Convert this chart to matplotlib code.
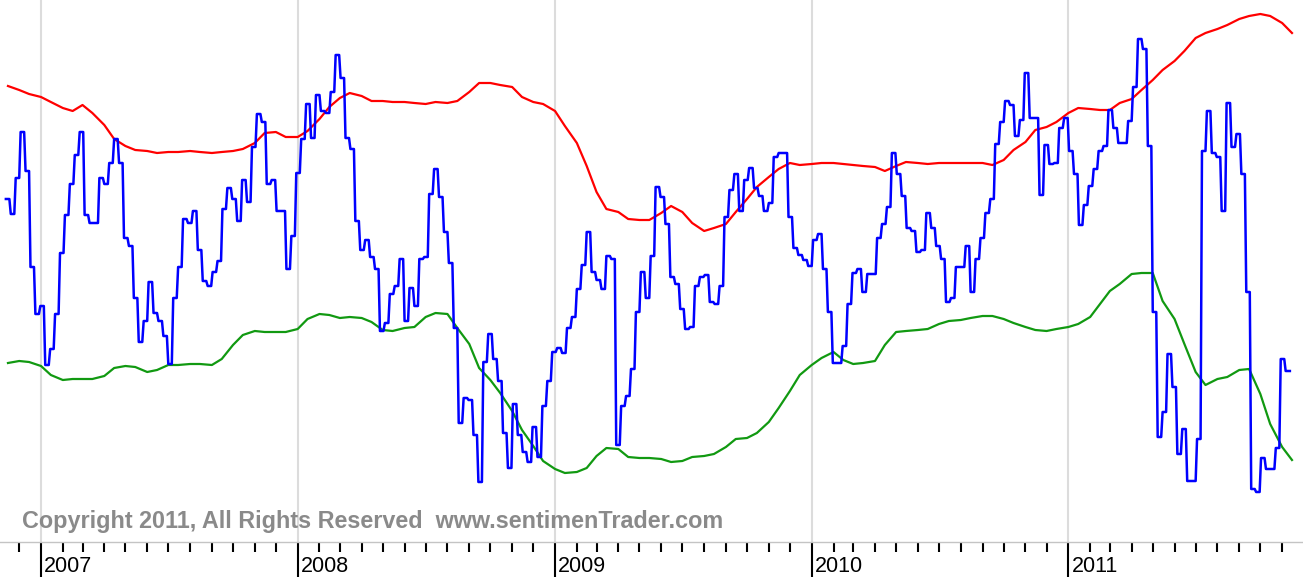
import matplotlib
matplotlib.use('Agg')
import matplotlib.pyplot as plt
import matplotlib.dates as mdates
import pandas as pd

plt.rcParams['font.family'] = ['Liberation Sans', 'DejaVu Sans']

# weekly indicator (blue), first week starting 2006-11-12
weekly_start = '2006-11-12'
weekly_values = [
    341, 326, 362, 408, 369, 273, 226, 234, 175, 191,
    226, 287, 325, 356, 385, 408, 325, 317, 317, 362,
    356, 377, 401, 377, 302, 294, 242, 198, 219, 258,
    227, 219, 204, 176, 242, 273, 321, 317, 329, 290,
    259, 254, 268, 279, 331, 352, 341, 319, 360, 338,
    393, 426, 418, 356, 360, 329, 329, 271, 304, 367,
    401, 436, 402, 445, 429, 427, 448, 485, 462, 402,
    391, 319, 290, 300, 283, 271, 209, 217, 246, 254,
    281, 219, 252, 234, 281, 283, 346, 371, 343, 308,
    277, 212, 117, 142, 140, 105, 58, 178, 206, 181,
    159, 107, 72, 136, 105, 88, 78, 113, 83, 134,
    159, 188, 192, 187, 212, 223, 251, 275, 308, 268,
    260, 251, 284, 281, 95, 134, 144, 171, 228, 268,
    242, 284, 353, 343, 316, 263, 256, 231, 211, 213,
    254, 263, 265, 238, 236, 254, 323, 350, 366, 329,
    360, 372, 352, 344, 329, 337, 383, 387, 387, 323,
    292, 285, 280, 274, 300, 306, 271, 228, 177, 177,
    194, 236, 267, 271, 248, 266, 266, 302, 316, 333,
    387, 366, 344, 312, 309, 288, 290, 327, 312, 294,
    281, 238, 242, 273, 273, 294, 248, 281, 302, 327,
    341, 396, 418, 439, 435, 404, 420, 467, 422, 422,
    345, 395, 376, 377, 412, 422, 389, 366, 315, 335,
    354, 371, 389, 394, 430, 412, 397, 397, 419, 453,
    501, 491, 394, 228, 103, 128, 186, 153, 86, 111,
    59, 59, 101, 389, 429, 387, 383, 329, 437, 393,
    406, 366, 248, 51, 48, 82, 71, 71, 92, 181,
    169,
]

# upper band (red) and lower band (green), semi-monthly from 2006-11-15
band_start = '2006-11-15'
upper_band = [
    454, 450, 446, 443, 438, 432, 429, 435, 427, 415,
    401, 394, 390, 389, 387, 388, 388, 389, 388, 387,
    388, 389, 391, 397, 407, 408, 403, 403, 409, 421,
    433, 442, 447, 444, 439, 439, 438, 438, 437, 436,
    438, 437, 439, 448, 457, 457, 455, 453, 443, 438,
    436, 429, 414, 397, 374, 348, 331, 328, 321, 320,
    320, 327, 334, 328, 317, 309, 312, 316, 328, 341,
    353, 363, 371, 377, 375, 376, 377, 377, 376, 375,
    374, 373, 369, 374, 378, 377, 376, 377, 377, 377,
    377, 377, 375, 380, 390, 398, 410, 413, 418, 427,
    432, 431, 430, 430, 437, 441, 450, 460, 470, 479,
    489, 502, 507, 511, 515, 521, 524, 526, 524, 517,
    507,
]
lower_band = [
    177, 179, 178, 174, 165, 160, 161, 161, 161, 164,
    172, 174, 173, 168, 170, 175, 175, 176, 176, 175,
    181, 195, 205, 209, 208, 208, 208, 211, 221, 226,
    225, 222, 223, 222, 218, 210, 209, 212, 213, 223,
    227, 226, 212, 196, 172, 160, 147, 129, 110, 94,
    79, 71, 67, 68, 72, 84, 92, 91, 83, 82,
    82, 81, 78, 79, 83, 84, 86, 93, 101, 102,
    107, 118, 132, 149, 165, 175, 182, 188, 180, 176,
    177, 179, 195, 208, 209, 210, 211, 216, 219, 220,
    222, 224, 224, 221, 217, 213, 210, 209, 211, 213,
    216, 223, 236, 249, 256, 266, 267, 267, 239, 221,
    196, 168, 155, 161, 163, 170, 171, 146, 116, 93,
    80,
]

years = [2007, 2008, 2009, 2010, 2011]
copyright_text = 'Copyright 2011, All Rights Reserved  www.sentimenTrader.com'

week_starts = pd.date_range(weekly_start, periods=len(weekly_values), freq='7D')
band_dates = pd.date_range(band_start, periods=len(upper_band), freq='SMS')

# each weekly value is held over the trading days of its week
bx, by = [], []
for d, v in zip(week_starts, weekly_values):
    bx += [d, d + pd.Timedelta(days=5)]
    by += [v, v]
bx[-1] = week_starts[-1] + pd.Timedelta(days=6)

fig = plt.figure(figsize=(13.03, 5.78), dpi=100)
ax = fig.add_axes([0, 36 / 578, 1, 542 / 578])

ax.plot(band_dates, upper_band, color='#ff0000', lw=1.6)
ax.plot(band_dates, lower_band, color='#119911', lw=1.6)
ax.plot(bx, by, color='#0000ff', lw=1.8)

ax.set_xlim(pd.Timestamp('2006-11-03 16:00'), pd.Timestamp('2011-11-30 16:00'))
ax.set_ylim(-2, 540)

ax.xaxis.set_major_locator(mdates.YearLocator())
ax.xaxis.set_minor_locator(mdates.MonthLocator())
ax.xaxis.set_major_formatter(plt.NullFormatter())
ax.xaxis.set_minor_formatter(plt.NullFormatter())
ax.set_yticks([])
ax.tick_params(axis='x', which='major', length=25, width=1.5,
               color='black', direction='out')
ax.tick_params(axis='x', which='minor', length=7, width=1.5,
               color='black', direction='out')

for s in ['top', 'left', 'right']:
    ax.spines[s].set_visible(False)
ax.spines['bottom'].set_color('#c4c4c4')
ax.spines['bottom'].set_linewidth(1)

ax.grid(axis='x', which='major', color='#dcdcdc', lw=1.5)
ax.set_axisbelow(True)

for yr in years:
    ax.annotate(str(yr), xy=(mdates.date2num(pd.Timestamp(yr, 1, 1)), 0),
                xycoords=('data', 'axes fraction'), xytext=(2.2, -21.4),
                textcoords='offset points', ha='left', va='baseline',
                fontsize=15.5, color='black')

ax.text(22 / 1303, (542 - 527.7) / 542, copyright_text,
        transform=ax.transAxes, fontsize=16.85, fontweight='bold',
        color='#8a8a8a', va='baseline', ha='left')

fig.savefig('out.png', dpi=100)
